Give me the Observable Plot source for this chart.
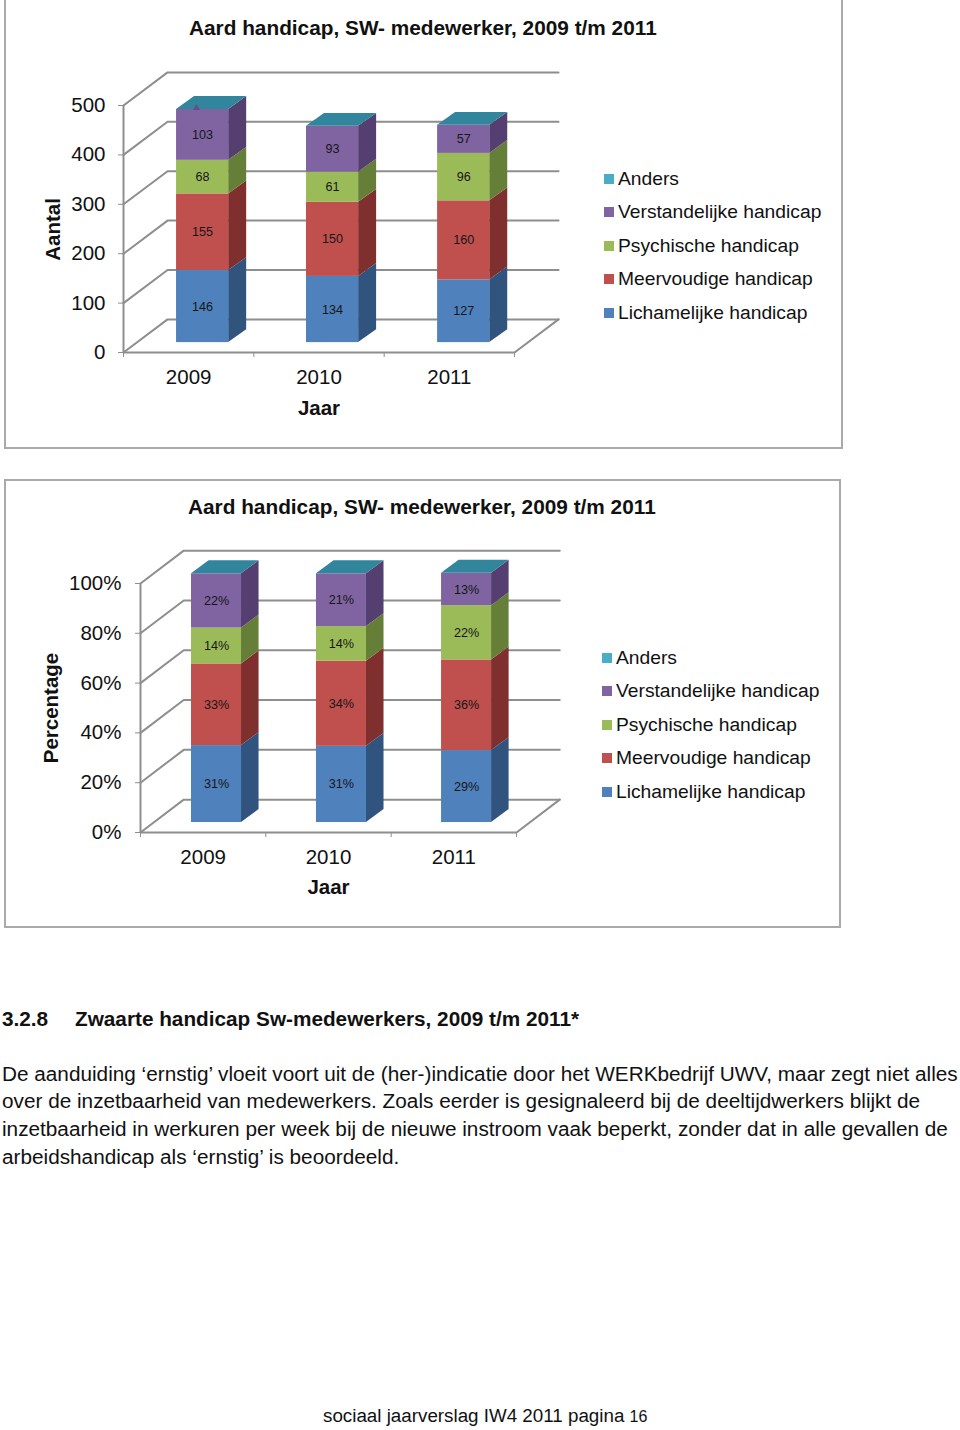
<!DOCTYPE html>
<html lang="nl">
<head>
<meta charset="utf-8">
<script src="https://cdn.jsdelivr.net/npm/d3@7"></script>
<script src="https://cdn.jsdelivr.net/npm/@observablehq/plot@0.6"></script>
<style>
html,body{margin:0;padding:0;background:#fff}
body{position:relative;width:960px;height:1430px;overflow:hidden;font-family:"Liberation Sans",Arial,sans-serif;color:#111}
.abs{position:absolute;white-space:nowrap}
.frame{position:absolute;border:2px solid #aaa;box-sizing:border-box}
.title{font-weight:bold;font-size:20.8px;line-height:24px;transform:translateY(-50%)}
.leg{font-size:19.25px;line-height:24px;transform:translateY(-50%)}
.sw{position:absolute;width:10px;height:10px;transform:translateY(-50%)}
.body{font-size:20.75px;line-height:26px;transform:translateY(-50%)}
svg{position:absolute;left:0;display:block}
</style>
</head>
<body>
<script>
const years = ["2009", "2010", "2011"];
const series = ["Lichamelijke handicap", "Meervoudige handicap", "Psychische handicap", "Verstandelijke handicap", "Anders"];
const legendOrder = ["Anders", "Verstandelijke handicap", "Psychische handicap", "Meervoudige handicap", "Lichamelijke handicap"];
const frontColors = ["#4f81bd", "#c0504d", "#9bbb59", "#8064a2"];
const sideColors = ["#31547f", "#7f302e", "#667f38", "#543f70"];
const topColor = "#31859c";
const legendColors = ["#4bacc6", "#8064a2", "#9bbb59", "#c0504d", "#4f81bd"];

const aantal2009 = [146, 155, 68, 103];
const aantal2010 = [134, 150, 61, 93];
const aantal2011 = [127, 160, 96, 57];
const pct2009 = [30.9, 32.8, 14.4, 21.8];
const pct2010 = [30.6, 34.2, 13.9, 21.2];
const pct2011 = [28.9, 36.4, 21.8, 13.0];
const aantalTicks = [0, 100, 200, 300, 400, 500];
const pctTicks = [0, 20, 40, 60, 80, 100];
const gridColor = "#8e8e8e";
const font = "'Liberation Sans', Arial, sans-serif";

function chart(cfg) {
  const {values, yMax, ticks, tickFmt, labelFmt, top, mL, mR, mT, depthX, depthY, lift, barStarts, barW, sideX, sideY, yLabel, yLabelX, yLabelY, jaarY, pad} = cfg;
  const backLines = ticks.flatMap(t => [
    {id: t, x: 0, y: t},
    {id: t, x: depthX, y: t + depthY},
    {id: t, x: 3 + depthX, y: t + depthY}
  ]);
  const floorEdge = [{x: 3, y: 0}, {x: 3 + depthX, y: depthY}];
  const marks = [
    Plot.line(backLines, {x: "x", y: "y", z: "id", stroke: gridColor, strokeWidth: 2}),
    Plot.line(floorEdge, {x: "x", y: "y", stroke: gridColor, strokeWidth: 2}),
    Plot.ruleX([0], {y1: 0, y2: yMax, stroke: gridColor, strokeWidth: 2}),
    Plot.ruleY([0], {x1: 0, x2: 3, stroke: gridColor, strokeWidth: 2}),
    Plot.axisY({ticks, tickSize: 5, tickPadding: pad, tickFormat: tickFmt, fontSize: 20.5, stroke: gridColor, fill: "#111", label: null}),
    Plot.axisX({ticks: [0, 1, 2, 3], tickSize: 5, tickFormat: () => "", stroke: gridColor, label: null}),
    Plot.axisX({ticks: [0.5, 1.5, 2.5], tickSize: 0, tickPadding: 17, tickFormat: d => years[Math.floor(d)], fontSize: 20.5, fill: "#111", label: null})
  ];
  values.forEach((vals, i) => {
    const x1 = barStarts[i], x2 = x1 + barW;
    let base = lift;
    vals.forEach((v, s) => {
      const t = base + v;
      marks.push(Plot.area([
        {x1: x2, y1: base, x2: x2, y2: t},
        {x1: x2 + sideX, y1: base + sideY, x2: x2 + sideX, y2: t + sideY}
      ], {x1: "x1", y1: "y1", x2: "x2", y2: "y2", fill: sideColors[s], curve: "linear"}));
      marks.push(Plot.rect([{x1, x2, y1: base, y2: t}], {x1: "x1", x2: "x2", y1: "y1", y2: "y2", fill: frontColors[s], inset: 0}));
      marks.push(Plot.text([{x: (x1 + x2) / 2, y: base + v / 2, t: labelFmt(v)}], {x: "x", y: "y", text: "t", fontSize: 12.6, fill: "#161616"}));
      base = t;
    });
    marks.push(Plot.area([
      {x1, y1: base, x2, y2: base},
      {x1: x1 + sideX, y1: base + sideY, x2: x2 + sideX, y2: base + sideY}
    ], {x1: "x1", y1: "y1", x2: "x2", y2: "y2", fill: topColor}));
  });
  if (cfg.mark) marks.push(Plot.dot([cfg.mark], {x: "x", y: "y", symbol: "triangle", r: 2.6, fill: "#6a4b86", stroke: "none"}));
  marks.push(Plot.text([yLabel], {x: () => yLabelX, y: () => yLabelY, text: d => d, rotate: -90, fontWeight: "bold", fontSize: 20.5, fill: "#111"}));
  marks.push(Plot.text(["Jaar"], {x: () => 1.5, y: () => jaarY, text: d => d, fontWeight: "bold", fontSize: 20.5, fill: "#111"}));
  const svg = Plot.plot({
    width: 960, height: 450,
    marginLeft: mL, marginRight: mR, marginTop: mT, marginBottom: 98,
    x: {type: "linear", domain: [0, 3]},
    y: {type: "linear", domain: [0, yMax]},
    style: {fontFamily: font, background: "transparent", overflow: "visible"},
    marks
  });
  svg.style.top = top + "px";
  document.body.appendChild(svg);
}

function el(cls, text, left, top, css) {
  const d = document.createElement("div");
  d.className = cls;
  if (text) d.textContent = text;
  d.style.left = left + "px";
  d.style.top = top + "px";
  if (css) Object.assign(d.style, css);
  document.body.appendChild(d);
  return d;
}

el("frame", "", 4, -2, {width: "839px", height: "451px"});
el("frame", "", 4, 479, {width: "837px", height: "449px"});

chart({
  values: [aantal2009, aantal2010, aantal2011], yMax: 500, ticks: aantalTicks,
  tickFmt: d => String(d), labelFmt: d => String(d),
  top: 0, mL: 123, mR: 446, mT: 105, depthX: 0.338, depthY: 67, lift: 20,
  barStarts: [0.407, 1.404, 2.41], barW: 0.4, sideX: 0.138, sideY: 26,
  yLabel: "Aantal", yLabelX: -0.537, yLabelY: 249, jaarY: -113, pad: 13,
  mark: {x: 0.56, y: 495}
});
chart({
  values: [pct2009, pct2010, pct2011], yMax: 100, ticks: pctTicks,
  tickFmt: d => d + "%", labelFmt: d => Math.round(d) + "%",
  top: 480, mL: 140, mR: 444, mT: 103, depthX: 0.345, depthY: 13.2, lift: 4,
  barStarts: [0.407, 1.404, 2.402], barW: 0.399, sideX: 0.14, sideY: 5.2,
  yLabel: "Percentage", yLabelX: -0.71, yLabelY: 50, jaarY: -22.2, pad: 14
});

const chartTitle = "Aard handicap, SW- medewerker, 2009 t/m 2011";
el("abs title", chartTitle, 189, 28);
el("abs title", chartTitle, 188, 507);

function legend(swX, textX, ys) {
  legendOrder.forEach((name, i) => {
    el("sw", "", swX, ys[i], {background: legendColors[i]});
    el("abs leg", name, textX, ys[i]);
  });
}
legend(604, 618, [179, 212, 246, 279, 313]);
legend(602, 616, [658, 691, 725, 758, 792]);

el("abs body", "3.2.8", 2, 1019, {fontWeight: "bold"});
el("abs body", "Zwaarte handicap Sw-medewerkers, 2009 t/m 2011*", 75, 1019, {fontWeight: "bold"});
const paragraph = [
  "De aanduiding ‘ernstig’ vloeit voort uit de (her-)indicatie door het WERKbedrijf UWV, maar zegt niet alles",
  "over de inzetbaarheid van medewerkers. Zoals eerder is gesignaleerd bij de deeltijdwerkers blijkt de",
  "inzetbaarheid in werkuren per week bij de nieuwe instroom vaak beperkt, zonder dat in alle gevallen de",
  "arbeidshandicap als ‘ernstig’ is beoordeeld."
];
const paragraphY = [1074, 1101, 1129, 1157];
paragraph.forEach((line, i) => el("abs body", line, 2, paragraphY[i]));
const foot = el("abs body", "sociaal jaarverslag IW4 2011 pagina ", 323, 1416, {fontSize: "18.8px"});
const pn = document.createElement("span");
pn.textContent = "16";
pn.style.fontSize = "16px";
foot.appendChild(pn);
</script>
</body>
</html>
